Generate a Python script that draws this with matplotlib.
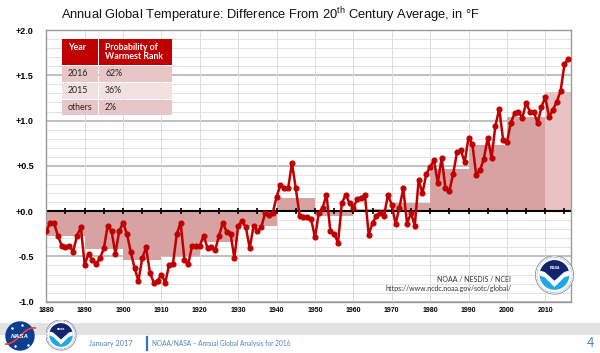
import matplotlib
matplotlib.use('Agg')
import matplotlib.pyplot as plt
from matplotlib.patches import Rectangle, Circle, Polygon
import numpy as np

# figure size in pixels
W, H = 600, 353

# annual anomalies, degrees F vs 20th century average
years = list(range(1880, 2017))
anomaly = [
    -0.22, -0.13, -0.13, -0.27, -0.38, -0.40, -0.38, -0.45, -0.27, -0.18,
    -0.59, -0.47, -0.54, -0.58, -0.52, -0.41, -0.16, -0.22, -0.47, -0.22,
    -0.13, -0.25, -0.45, -0.63, -0.77, -0.52, -0.40, -0.68, -0.79, -0.77,
    -0.70, -0.79, -0.59, -0.58, -0.25, -0.13, -0.54, -0.58, -0.38, -0.38,
    -0.38, -0.27, -0.41, -0.40, -0.43, -0.27, -0.13, -0.23, -0.25, -0.52,
    -0.16, -0.11, -0.18, -0.41, -0.16, -0.22, -0.18, -0.02, -0.04, -0.02,
    0.16, 0.29, 0.25, 0.25, 0.53, 0.25, -0.05, -0.07, -0.07, -0.09,
    -0.29, -0.02, 0.04, 0.18, -0.22, -0.25, -0.35, 0.09, 0.18, 0.09,
    0.04, 0.13, 0.14, 0.18, -0.26, -0.13, -0.05, -0.02, -0.05, 0.18,
    0.07, -0.14, 0.04, 0.25, -0.14, -0.02, -0.16, 0.34, 0.20, 0.41,
    0.49, 0.56, 0.31, 0.59, 0.25, 0.22, 0.41, 0.65, 0.67, 0.54,
    0.81, 0.74, 0.40, 0.45, 0.58, 0.81, 0.59, 0.94, 1.13, 0.79,
    0.76, 0.97, 1.08, 1.10, 1.03, 1.19, 1.10, 1.10, 0.97, 1.15,
    1.26, 1.04, 1.12, 1.21, 1.33, 1.62, 1.68,
]

# decadal averages (shaded steps)
decades = [1880, 1890, 1900, 1910, 1920, 1930, 1940, 1950, 1960, 1970, 1980, 1990, 2000, 2010]
decade_mean = [-0.28, -0.42, -0.54, -0.49, -0.34, -0.16, 0.15, -0.05, 0.02, 0.09, 0.47, 0.73, 1.04, 1.32]

# table contents
table_head = ['Year', 'Probability of\nWarmest Rank']
table_years = ['2016', '2015', 'others']
table_probs = ['62%', '36%', '2%']

yticks = [-1.0, -0.5, 0.0, 0.5, 1.0, 1.5, 2.0]
ytick_labels = ['-1.0', '-0.5', '+0.0', '+0.5', '+1.0', '+1.5', '+2.0']
xticks = list(range(1880, 2011, 10))

red = '#c00000'
xmin, xmax = 1880, 2016.7

plt.rcParams['font.family'] = 'Liberation Sans'
plt.rcParams['mathtext.fontset'] = 'custom'
plt.rcParams['mathtext.rm'] = 'Liberation Sans'


def px(x, y):
    # pixel position (from top-left) -> figure fraction
    return (x / W, 1 - y / H)


fig = plt.figure(figsize=(W / 100, H / 100), dpi=100)
fig.patch.set_facecolor('white')

ax = fig.add_axes([46.3 / W, 1 - 301.7 / H, (571 - 46.3) / W, (301.7 - 30) / H])

# grid
for v in np.arange(-1.0, 2.01, 0.1):
    major = abs(v * 2 - round(v * 2)) < 1e-6
    ax.axhline(v, color='#b4b4b4' if major else '#e2e2e2', lw=1.2 if major else 0.7, zorder=0)
for x in xticks[1:]:
    ax.axvline(x, color='#dcdcdc', lw=0.7, zorder=0)

# decadal bars
widths = [10] * (len(decades) - 1) + [xmax - decades[-1]]
bar_colors = ['#d9a2a2'] * (len(decades) - 1) + ['#e8c3c3']
ax.bar(decades, decade_mean, width=widths, align='edge', color=bar_colors, lw=0, zorder=1)

# zero line with little tick marks
ax.axhline(0, color='black', lw=1.5, zorder=2)
ax.plot(list(range(1885, 2016, 5)), [0] * len(range(1885, 2016, 5)), ls='none',
        marker='|', ms=5, mew=1.2, color='black', zorder=2)

# annual line
ax.plot(years, anomaly, color=red, lw=1.8, marker='o', ms=3.4, zorder=3)

ax.set_xlim(xmin, xmax)
ax.set_ylim(-1.0, 2.0)
ax.set_yticks(yticks)
ax.set_yticklabels(ytick_labels, fontsize=6.5, fontweight='bold')
ax.set_xticks(xticks)
ax.set_xticklabels([str(x) for x in xticks], fontsize=5, fontweight='bold')
ax.tick_params(axis='y', length=0, pad=9)
ax.tick_params(axis='x', length=0, pad=4)
for s in ax.spines.values():
    s.set_color('#9a9a9a')
    s.set_linewidth(1)

# source text inside plot
fig.text(*px(511, 279), 'NOAA / NESDIS / NCEI', fontsize=5, ha='right', va='center',
         color='#333333', family='Lato')
fig.text(*px(385, 288), 'https://www.ncdc.noaa.gov/sotc/global/', fontsize=5, ha='left',
         va='center', color='#333333', family='Lato')

# title
fig.text(*px(270, 15), r'Annual Global Temperature: Difference From 20$^{\mathrm{th}}$ Century Average, in °F',
         fontsize=9.3, ha='center', va='center', color='#111111')

# table of probabilities
def rect(x0, y0, x1, y1, color):
    fig.add_artist(Rectangle(px(x0, y1), (x1 - x0) / W, (y1 - y0) / H,
                             transform=fig.transFigure, fc=color, ec='none', zorder=5))

col_x = [62.3, 98.7, 172.3]
rect(col_x[0], 39.3, col_x[1] - 0.5, 65, red)
rect(col_x[1] + 0.5, 39.3, col_x[2], 65, red)
fig.text(*px(68, 47), table_head[0], fontsize=6.3, fontweight='bold', color='white',
         va='center', family='Lato', zorder=6)
fig.text(*px(105, 52), table_head[1], fontsize=6.3, fontweight='bold', color='white',
         va='center', family='Lato', linespacing=1.1, zorder=6)
row_y = [(65.8, 82), (83, 98.6), (99.6, 115.3)]
row_colors = ['#e8c6c8', '#f3e1e1', '#e8c6c8']
for (y0, y1), c, yr, pr in zip(row_y, row_colors, table_years, table_probs):
    rect(col_x[0], y0, col_x[1] - 0.5, y1, c)
    rect(col_x[1] + 0.5, y0, col_x[2], y1, c)
    fig.text(*px(68, (y0 + y1) / 2), yr, fontsize=6.3, color='#222222', va='center',
             family='Lato', zorder=6)
    fig.text(*px(105, (y0 + y1) / 2), pr, fontsize=6.3, color='#222222', va='center',
             family='Lato', zorder=6)


def noaa_logo(cx, cy, r):
    lax = fig.add_axes([(cx - r) / W, 1 - (cy + r) / H, 2 * r / W, 2 * r / H])
    lax.set_xlim(-1, 1)
    lax.set_ylim(-1, 1)
    lax.axis('off')
    lax.add_patch(Circle((0, 0), 0.98, fc='white', ec='#8a8aa8', lw=0.6))
    lax.add_patch(Circle((0, 0), 0.9, fc='none', ec='#3a4a8a', lw=0.4, ls=':'))
    inner = Circle((0, 0), 0.76, fc='#1ea6e6', ec='none')
    lax.add_patch(inner)
    navy = Polygon([(-1, 1), (1, 1), (1, 0.3), (0.5, 0.15), (0, -0.3), (-0.5, 0.15), (-1, 0.3)],
                   fc='#14236e', ec='none')
    lax.add_patch(navy)
    navy.set_clip_path(inner)
    bird = Polygon([(-1, 0.3), (-0.5, 0.15), (0, -0.3), (0.5, 0.15), (1, 0.3), (1, 0.05),
                    (0.5, -0.12), (0, -0.62), (-0.5, -0.12), (-1, 0.05)], fc='white', ec='none')
    lax.add_patch(bird)
    bird.set_clip_path(inner)
    lax.text(0, 0.38, 'noaa', color='white', fontsize=r / 6, fontweight='bold',
             ha='center', va='center')


def nasa_logo(cx, cy, r):
    lax = fig.add_axes([(cx - r) / W, 1 - (cy + r) / H, 2 * r / W, 2 * r / H])
    lax.set_xlim(-1, 1)
    lax.set_ylim(-1, 1)
    lax.axis('off')
    lax.add_patch(Circle((0, 0), 0.95, fc='#0b3d91', ec='none'))
    t = np.linspace(-1.1, 1.15, 40)
    lax.plot(t, 0.35 * t + 0.25 * np.sin(t * 2.4), color='#fc3d21', lw=1.2)
    for sx, sy in [(-0.5, 0.5), (0.1, 0.7), (0.5, -0.6), (-0.3, -0.65)]:
        lax.plot(sx, sy, 'o', ms=0.8, color='white')
    lax.text(0, 0, 'NASA', color='white', fontsize=r / 3.4, fontweight='bold',
             fontstyle='italic', ha='center', va='center')


noaa_logo(554.5, 275, 19.5)

# footer band and text
fig.add_artist(Rectangle(px(0, 335), 1, 12 / H, transform=fig.transFigure,
                         fc='#e2e2e2', ec='none', zorder=0))
nasa_logo(20, 336, 15.5)
noaa_logo(61, 335, 15.5)

footer_blue = '#4f7fc0'
fig.text(*px(89, 343.5), 'January 2017', fontsize=5.2, color=footer_blue, va='center', family='Lato')
fig.add_artist(plt.Line2D([147 / W, 147 / W], [1 - 336.5 / H, 1 - 350 / H], transform=fig.transFigure,
                          color='#3b6fc6', lw=1.6))
fig.text(*px(152, 343.5), 'NOAA/NASA \u2013 Annual Global Analysis for 2016', fontsize=4.7,
         color=footer_blue, va='center', family='Lato')
fig.text(*px(590, 343), '4', fontsize=9, color=footer_blue, va='center', ha='center', family='Lato')

fig.savefig('out.png', dpi=100)
